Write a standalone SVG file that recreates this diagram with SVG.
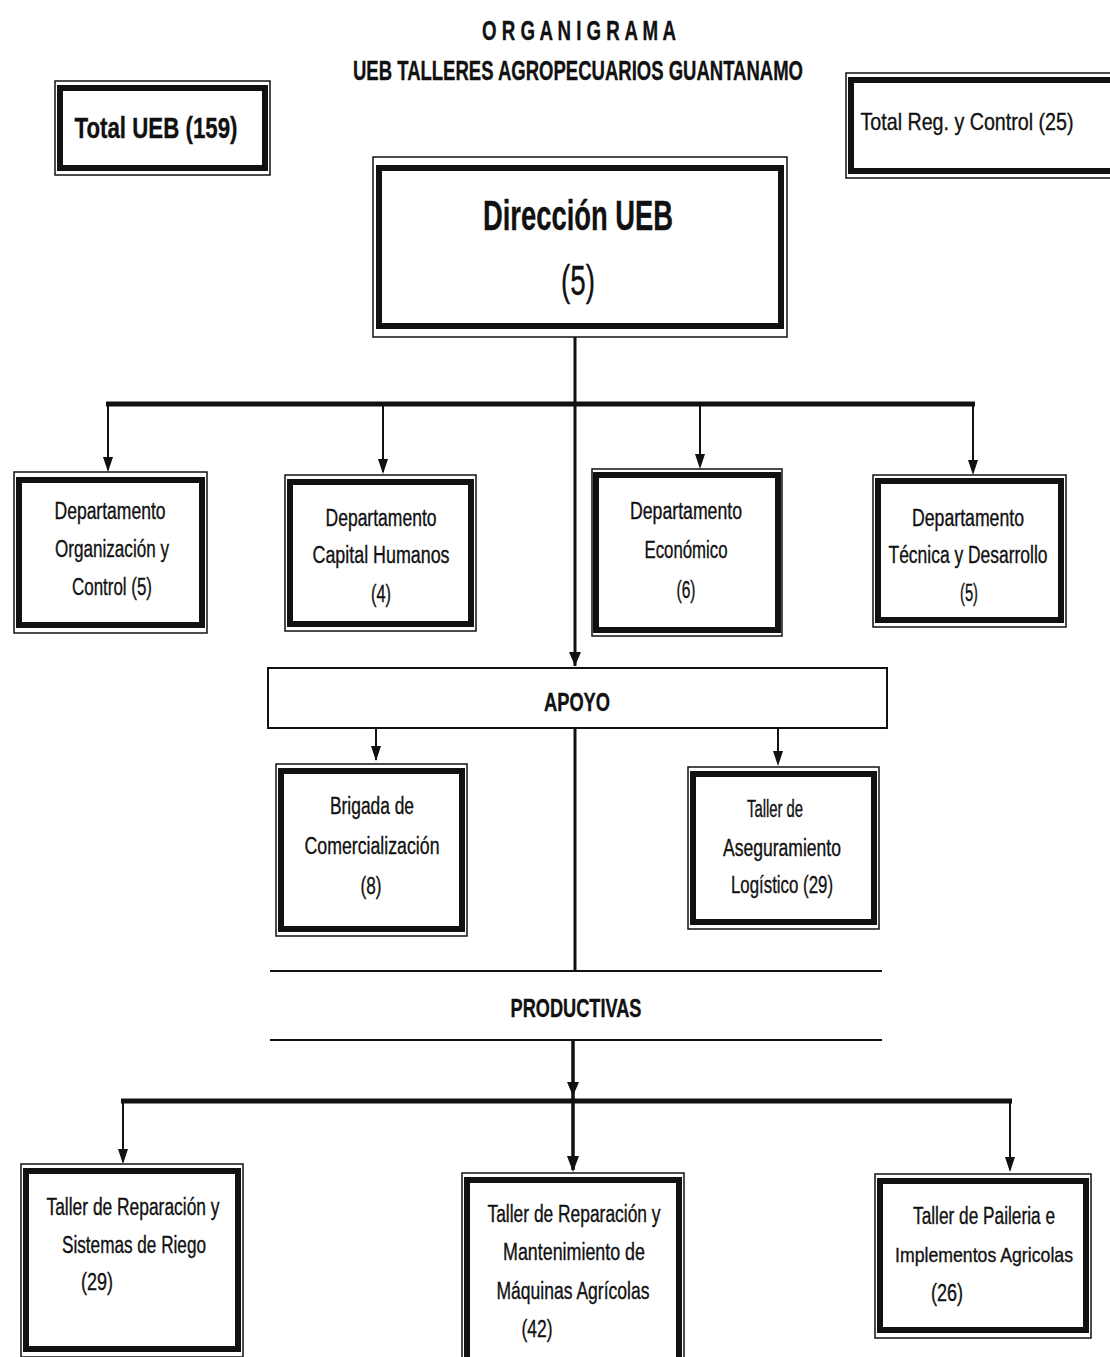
<svg xmlns="http://www.w3.org/2000/svg" width="1110" height="1357" viewBox="0 0 1110 1357">
<style>
text{font-family:"Liberation Sans",Arial,sans-serif;fill:#111;stroke:#111;stroke-width:0.35;text-anchor:middle}
.o{fill:none;stroke:#111;stroke-width:1.5}
.i{fill:#fff;stroke:#111;stroke-width:6}
.t{font-size:23px}
.b{font-weight:bold}
.c{stroke:#111;fill:none}
.ah{fill:#111}
</style>
<rect width="1110" height="1357" fill="#fff"/>
<g id="title">
<text x="579" y="40" font-size="28" class="b" textLength="194" lengthAdjust="spacingAndGlyphs">O R G A N I G R A M A</text>
<text x="578" y="80" font-size="27" class="b" textLength="450" lengthAdjust="spacingAndGlyphs">UEB TALLERES AGROPECUARIOS  GUANTANAMO</text>
</g>
<g id="connectors">
<line class="c" x1="575" y1="337" x2="575" y2="666" stroke-width="3"/>
<path class="ah" d="M569,652 L575,666 L581,652 z"/>
<line class="c" x1="575" y1="728" x2="575" y2="971" stroke-width="3"/>
<line class="c" x1="106" y1="404" x2="975" y2="404" stroke-width="5"/>
<line class="c" x1="108" y1="404" x2="108" y2="470" stroke-width="2"/>
<path class="ah" d="M103,457 L108,472 L113,457 z"/>
<line class="c" x1="383" y1="404" x2="383" y2="472" stroke-width="2"/>
<path class="ah" d="M378,459 L383,474 L388,459 z"/>
<line class="c" x1="700" y1="404" x2="700" y2="466" stroke-width="2"/>
<path class="ah" d="M695,454 L700,469 L705,454 z"/>
<line class="c" x1="973" y1="404" x2="973" y2="472" stroke-width="2"/>
<path class="ah" d="M968,460 L973,475 L978,460 z"/>
<line class="c" x1="376" y1="728" x2="376" y2="760" stroke-width="2"/>
<path class="ah" d="M371,746 L376,761 L381,746 z"/>
<line class="c" x1="778" y1="728" x2="778" y2="763" stroke-width="2"/>
<path class="ah" d="M773,751 L778,766 L783,751 z"/>
<line class="c" x1="573" y1="1040" x2="573" y2="1170" stroke-width="3.5"/>
<path class="ah" d="M567,1082 L573,1096 L579,1082 z"/>
<path class="ah" d="M567,1156 L573,1172 L579,1156 z"/>
<line class="c" x1="121" y1="1101" x2="1012" y2="1101" stroke-width="5"/>
<line class="c" x1="123" y1="1101" x2="123" y2="1162" stroke-width="2"/>
<path class="ah" d="M118,1149 L123,1164 L128,1149 z"/>
<line class="c" x1="1010" y1="1101" x2="1010" y2="1170" stroke-width="2"/>
<path class="ah" d="M1005,1157 L1010,1172 L1015,1157 z"/>
</g>
<g id="total-ueb">
<rect class="o" x="55" y="81" width="215" height="94"/>
<rect class="i" x="60" y="88" width="205" height="80"/>
<text x="156" y="138" font-size="30" class="b" textLength="163" lengthAdjust="spacingAndGlyphs">Total UEB (159)</text>
</g>
<g id="total-reg">
<path class="o" d="M1110,73 H846 V178 H1110"/>
<path d="M1110,80 H851 V171 H1110" fill="#fff" stroke="#111" stroke-width="6"/>
<text x="967" y="130" font-size="24" textLength="213" lengthAdjust="spacingAndGlyphs">Total Reg. y Control (25)</text>
</g>
<g id="direccion">
<rect class="o" x="373" y="157" width="414" height="180"/>
<rect class="i" x="379" y="168" width="402" height="158"/>
<text x="578" y="230" font-size="42" class="b" textLength="190" lengthAdjust="spacingAndGlyphs">Dirección UEB</text>
<text x="578" y="295" font-size="42" textLength="34" lengthAdjust="spacingAndGlyphs">(5)</text>
</g>
<g id="dep-org">
<rect class="o" x="14" y="472" width="193" height="161"/>
<rect class="i" x="19" y="480" width="183" height="145"/>
<text class="t" x="110" y="519" textLength="111" lengthAdjust="spacingAndGlyphs">Departamento</text>
<text class="t" x="112" y="557" textLength="114" lengthAdjust="spacingAndGlyphs">Organización y</text>
<text class="t" x="112" y="595" textLength="80" lengthAdjust="spacingAndGlyphs">Control (5)</text>
</g>
<g id="dep-capital">
<rect class="o" x="285" y="475" width="191" height="156"/>
<rect class="i" x="290" y="482" width="181" height="142"/>
<text class="t" x="381" y="526" textLength="111" lengthAdjust="spacingAndGlyphs">Departamento</text>
<text class="t" x="381" y="563" textLength="137" lengthAdjust="spacingAndGlyphs">Capital Humanos</text>
<text class="t" x="381" y="602" textLength="20" lengthAdjust="spacingAndGlyphs">(4)</text>
</g>
<g id="dep-economico">
<rect class="o" x="592" y="469" width="190" height="167"/>
<rect class="i" x="596" y="475" width="182" height="155"/>
<text class="t" x="686" y="519" textLength="112" lengthAdjust="spacingAndGlyphs">Departamento</text>
<text class="t" x="686" y="558" textLength="83" lengthAdjust="spacingAndGlyphs">Económico</text>
<text class="t" x="686" y="598" textLength="19" lengthAdjust="spacingAndGlyphs">(6)</text>
</g>
<g id="dep-tecnica">
<rect class="o" x="873" y="475" width="193" height="152"/>
<rect class="i" x="878" y="481" width="183" height="139"/>
<text class="t" x="968" y="526" textLength="112" lengthAdjust="spacingAndGlyphs">Departamento</text>
<text class="t" x="968" y="563" textLength="159" lengthAdjust="spacingAndGlyphs">Técnica y Desarrollo</text>
<text class="t" x="969" y="601" textLength="18" lengthAdjust="spacingAndGlyphs">(5)</text>
</g>
<g id="apoyo">
<rect x="268" y="668" width="619" height="60" fill="#fff" stroke="#111" stroke-width="2"/>
<text x="577" y="711" font-size="26" class="b" textLength="66" lengthAdjust="spacingAndGlyphs">APOYO</text>
</g>
<g id="brigada">
<rect class="o" x="276" y="764" width="191" height="172"/>
<rect class="i" x="281" y="771" width="181" height="158"/>
<text class="t" x="372" y="814" textLength="84" lengthAdjust="spacingAndGlyphs">Brigada de</text>
<text class="t" x="372" y="854" textLength="135" lengthAdjust="spacingAndGlyphs">Comercialización</text>
<text class="t" x="371" y="894" textLength="21" lengthAdjust="spacingAndGlyphs">(8)</text>
</g>
<g id="taller-aseg">
<rect class="o" x="688" y="767" width="191" height="162"/>
<rect class="i" x="693" y="774" width="181" height="148"/>
<text class="t" x="775" y="817" textLength="56" lengthAdjust="spacingAndGlyphs">Taller de</text>
<text class="t" x="782" y="856" textLength="118" lengthAdjust="spacingAndGlyphs">Aseguramiento</text>
<text class="t" x="782" y="893" textLength="102" lengthAdjust="spacingAndGlyphs">Logístico (29)</text>
</g>
<g id="productivas">
<line x1="270" y1="971" x2="882" y2="971" stroke="#111" stroke-width="2"/>
<line x1="270" y1="1040" x2="882" y2="1040" stroke="#111" stroke-width="2"/>
<text x="576" y="1017" font-size="26" class="b" textLength="131" lengthAdjust="spacingAndGlyphs">PRODUCTIVAS</text>
</g>
<g id="taller-riego">
<rect class="o" x="21" y="1164" width="222" height="193"/>
<rect class="i" x="26" y="1171" width="212" height="178"/>
<text class="t" x="133" y="1215" textLength="173" lengthAdjust="spacingAndGlyphs">Taller de Reparación y</text>
<text class="t" x="134" y="1253" textLength="144" lengthAdjust="spacingAndGlyphs">Sistemas de Riego</text>
<text class="t" x="97" y="1290" textLength="32" lengthAdjust="spacingAndGlyphs">(29)</text>
</g>
<g id="taller-maquinas">
<rect class="o" x="462" y="1173" width="222" height="190"/>
<rect class="i" x="467" y="1180" width="212" height="180"/>
<text class="t" x="574" y="1222" textLength="173" lengthAdjust="spacingAndGlyphs">Taller de Reparación y</text>
<text class="t" x="574" y="1260" textLength="142" lengthAdjust="spacingAndGlyphs">Mantenimiento de</text>
<text class="t" x="573" y="1299" textLength="153" lengthAdjust="spacingAndGlyphs">Máquinas Agrícolas</text>
<text class="t" x="537" y="1337" textLength="31" lengthAdjust="spacingAndGlyphs">(42)</text>
</g>
<g id="taller-paileria">
<rect class="o" x="875" y="1174" width="216" height="164"/>
<rect class="i" x="880" y="1181" width="206" height="149"/>
<text class="t" x="984" y="1224" textLength="142" lengthAdjust="spacingAndGlyphs">Taller de Paileria e</text>
<text x="984" y="1262" font-size="21" textLength="178" lengthAdjust="spacingAndGlyphs">Implementos Agricolas</text>
<text class="t" x="947" y="1301" textLength="32" lengthAdjust="spacingAndGlyphs">(26)</text>
</g>
</svg>
